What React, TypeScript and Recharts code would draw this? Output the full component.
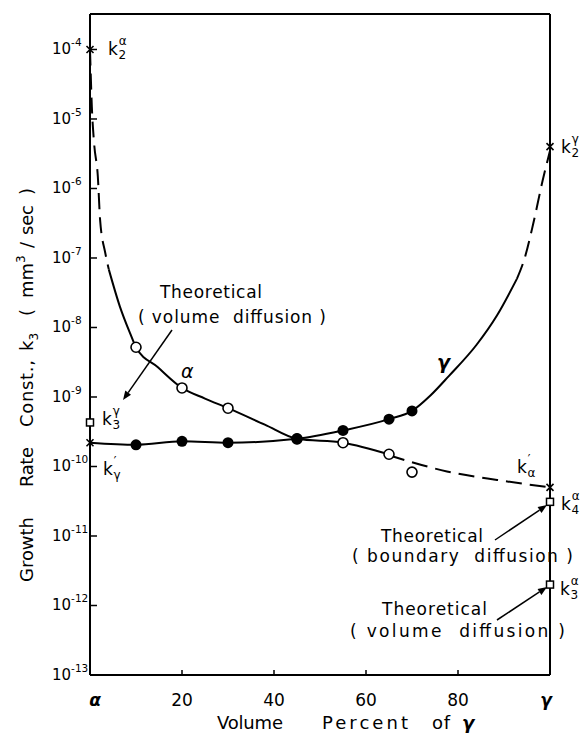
import React from 'react';
import { ComposedChart, Line, Scatter, XAxis, YAxis, ReferenceLine } from 'recharts';

const FONT = '"DejaVu Sans", sans-serif';

// axes
const pctTicks = [0, 20, 40, 60, 80, 100];
const pctTickLabels = ['α', '20', '40', '60', '80', 'γ'];
const kTicks = [1e-13, 1e-12, 1e-11, 1e-10, 1e-9, 1e-8, 1e-7, 1e-6, 1e-5, 1e-4];
const kTickExps = ['-13', '-12', '-11', '-10', '-9', '-8', '-7', '-6', '-5', '-4'];
const kTop = 3.24e-4;

// measured points
const alphaPct = [10, 20, 30, 45, 55, 65, 70];
const alphaK = [5.2e-9, 1.35e-9, 6.9e-10, 2.5e-10, 2.2e-10, 1.5e-10, 8.3e-11];
const gammaPct = [10, 20, 30, 45, 55, 65, 70];
const gammaK = [2.05e-10, 2.3e-10, 2.2e-10, 2.5e-10, 3.3e-10, 4.8e-10, 6.3e-10];

// alpha curve
const alphaHeadPct = [0, 0.4, 0.9, 1.7, 2.2, 3.3, 4.1];
const alphaHeadK = [1e-4, 1.5e-5, 4.4e-6, 1.5e-6, 3.5e-7, 1.2e-7, 6.8e-8];
const alphaBodyPct = [4.1, 6.5, 8.7, 10, 14.7, 20, 25, 30, 38, 45, 55, 65];
const alphaBodyK = [6.8e-8, 2e-8, 8.3e-9, 5.2e-9, 2.7e-9, 1.35e-9, 9.5e-10, 6.9e-10, 4e-10, 2.5e-10, 2.2e-10, 1.5e-10];
const alphaTailPct = [65, 77.6, 88.5, 100];
const alphaTailK = [1.45e-10, 8.5e-11, 6.4e-11, 5e-11];

// gamma curve
const gammaBodyPct = [0, 10, 20, 30, 45, 55, 65, 70, 74, 78, 84, 88.5, 92.8];
const gammaBodyK = [2.2e-10, 2.05e-10, 2.3e-10, 2.2e-10, 2.5e-10, 3.3e-10, 4.8e-10, 6.3e-10, 1.05e-9, 2e-9, 5.6e-9, 1.5e-8, 5e-8];
const gammaTailPct = [92.8, 94.5, 96.3, 98.4, 100];
const gammaTailK = [5e-8, 1e-7, 3e-7, 1.3e-6, 3.5e-6];

// limiting values on the end axes
const crossPct = [0, 0, 100, 100];
const crossK = [1e-4, 2.2e-10, 4e-6, 5e-11];
const squarePct = [0, 100, 100];
const squareK = [4.3e-10, 3.1e-11, 2e-12];

const zip = (xs: number[], ys: number[]) => xs.map((x, i) => ({ x, k: ys[i] }));

const OpenDot = (p: any) => <circle cx={p.cx} cy={p.cy} r={5} fill="#fff" stroke="#000" strokeWidth={1.6} />;
const FilledDot = (p: any) => <circle cx={p.cx} cy={p.cy} r={5.5} fill="#000" />;
const Cross = (p: any) => (
  <g stroke="#000" strokeWidth={1.6}>
    <line x1={p.cx - 3.5} y1={p.cy - 3.5} x2={p.cx + 3.5} y2={p.cy + 3.5} />
    <line x1={p.cx - 3.5} y1={p.cy + 3.5} x2={p.cx + 3.5} y2={p.cy - 3.5} />
  </g>
);
const Square = (p: any) => (
  <rect x={p.cx - 3.5} y={p.cy - 3.5} width={7} height={7} fill="#fff" stroke="#000" strokeWidth={1.5} />
);

const KTick = (p: any) => {
  const i = kTicks.findIndex((t) => Math.abs(Math.log10(t) - Math.log10(p.payload.value)) < 1e-6);
  return (
    <g>
      <line x1={p.x} x2={p.x + 7} y1={p.y} y2={p.y} stroke="#000" strokeWidth={1.5} />
      <text x={p.x - 38} y={p.y + 5} fontSize={15} fontFamily={FONT} fill="#000">
        10<tspan fontSize={10.5} dy={-8}>{kTickExps[i]}</tspan>
      </text>
    </g>
  );
};

const PctTick = (p: any) => {
  const i = pctTicks.indexOf(p.payload.value);
  const greek = i === 0 || i === pctTicks.length - 1;
  const dx = i === 0 ? 5 : i === pctTicks.length - 1 ? -4 : 0;
  return (
    <g>
      {!greek && <line x1={p.x} x2={p.x} y1={p.y} y2={p.y - 5} stroke="#000" strokeWidth={1.5} />}
      <text x={p.x + dx} y={p.y + 31} textAnchor="middle" fontSize={17} fontFamily={FONT}
        fontStyle={greek ? 'italic' : 'normal'} fontWeight={greek ? 'bold' : 'normal'} fill="#000">
        {pctTickLabels[i]}
      </text>
    </g>
  );
};

const Arrow = ({ x1, y1, x2, y2 }: any) => {
  const a = Math.atan2(y2 - y1, x2 - x1);
  const L = 9, W = 3.5;
  const bx = x2 - L * Math.cos(a), by = y2 - L * Math.sin(a);
  const px = -Math.sin(a) * W, py = Math.cos(a) * W;
  return (
    <g>
      <line x1={x1} y1={y1} x2={bx} y2={by} stroke="#000" strokeWidth={1.5} />
      <polygon points={`${x2},${y2} ${bx + px},${by + py} ${bx - px},${by - py}`} fill="#000" />
    </g>
  );
};

const Word = ({ x, y, w, size = 17, italic = false, children }: any) => (
  <text x={x} y={y} textLength={w} lengthAdjust="spacing" fontSize={size} fontFamily={FONT}
    fontStyle={italic ? 'italic' : 'normal'} fill="#000" style={{ whiteSpace: 'pre' }}>
    {children}
  </text>
);

const KLabel = ({ x, y, sup, sub }: any) => (
  <text x={x} y={y} fontSize={17} fontFamily={FONT} fill="#000">
    k<tspan fontSize={12} dx={1} dy={-10}>{sup}</tspan>
    <tspan fontSize={12} x={x + 10.5} dy={14}>{sub}</tspan>
  </text>
);

export default function App() {
  return (
    <div style={{ position: 'fixed', left: 0, top: 0, background: '#fff' }}>
      <ComposedChart width={580} height={733} margin={{ top: 14, right: 30, bottom: 0, left: 0 }}
        style={{ fontFamily: FONT }}>
        <XAxis dataKey="x" type="number" domain={[0, 100]} ticks={pctTicks}
          height={58} tickSize={0} tickMargin={0} tick={<PctTick />} axisLine={{ stroke: '#000', strokeWidth: 2 }}
          tickLine={false} />
        <YAxis dataKey="k" type="number" scale="log" domain={[1e-13, kTop]} ticks={kTicks}
          width={90} tickSize={0} tickMargin={0} tick={<KTick />} axisLine={{ stroke: '#000', strokeWidth: 2 }}
          tickLine={false} interval={0} />
        <ReferenceLine x={100} stroke="#000" strokeWidth={2} ifOverflow="visible" />
        <ReferenceLine y={kTop} stroke="#000" strokeWidth={2} ifOverflow="visible" />

        <Line data={zip(alphaHeadPct, alphaHeadK)} dataKey="k" type="monotone" dot={false} stroke="#000"
          strokeWidth={2} strokeDasharray="16 8" isAnimationActive={false} />
        <Line data={zip(alphaBodyPct, alphaBodyK)} dataKey="k" type="monotone" dot={false} stroke="#000"
          strokeWidth={2} isAnimationActive={false} />
        <Line data={zip(alphaTailPct, alphaTailK)} dataKey="k" type="monotone" dot={false} stroke="#000"
          strokeWidth={2} strokeDasharray="16 8" isAnimationActive={false} />
        <Line data={zip(gammaBodyPct, gammaBodyK)} dataKey="k" type="monotone" dot={false} stroke="#000"
          strokeWidth={2} isAnimationActive={false} />
        <Line data={zip(gammaTailPct, gammaTailK)} dataKey="k" type="monotone" dot={false} stroke="#000"
          strokeWidth={2} strokeDasharray="16 8" isAnimationActive={false} />

        <Scatter data={zip(alphaPct, alphaK)} dataKey="k" shape={OpenDot} isAnimationActive={false} />
        <Scatter data={zip(gammaPct, gammaK)} dataKey="k" shape={FilledDot} isAnimationActive={false} />
        <Scatter data={zip(crossPct, crossK)} dataKey="k" shape={Cross} isAnimationActive={false} />
        <Scatter data={zip(squarePct, squareK)} dataKey="k" shape={Square} isAnimationActive={false} />

        <g>
          {/* end-point labels */}
          <KLabel x={108} y={55} sup="α" sub="2" />
          <KLabel x={102} y={425} sup="γ" sub="3" />
          <KLabel x={103} y={475} sup="′" sub="γ" />
          <KLabel x={561} y={153} sup="γ" sub="2" />
          <KLabel x={517} y={473} sup="′" sub="α" />
          <KLabel x={561} y={510} sup="α" sub="4" />
          <KLabel x={560} y={595} sup="α" sub="3" />

          {/* curve labels */}
          <text x={181} y={378} fontSize={19} fontStyle="italic" fontFamily={FONT} fill="#000">α</text>
          <text x={437} y={369} fontSize={19} fontStyle="italic" fontWeight="bold" fontFamily={FONT} fill="#000">γ</text>

          {/* theoretical notes */}
          <Word x={160} y={298} w={102}>Theoretical</Word>
          <Word x={138} y={323} w={188}>( volume  diffusion )</Word>
          <Arrow x1={172} y1={330} x2={123} y2={400} />

          <Word x={381} y={542} w={102}>Theoretical</Word>
          <Word x={352} y={562} w={221}>( boundary  diffusion )</Word>
          <Arrow x1={495} y1={540} x2={547} y2={505} />

          <Word x={382} y={615} w={105}>Theoretical</Word>
          <Word x={350} y={637} w={215}>( volume  diffusion )</Word>
          <Arrow x1={497} y1={620} x2={547} y2={587} />

          {/* x-axis title */}
          <Word x={217} y={729} w={66} size={18}>Volume</Word>
          <Word x={322} y={729} w={86} size={18}>Percent</Word>
          <Word x={432} y={729} w={18} size={18}>of</Word>
          <text x={462} y={729} fontSize={18} fontStyle="italic" fontWeight="bold" fontFamily={FONT} fill="#000">γ</text>

          {/* y-axis title */}
          <g transform="translate(33,0) rotate(-90)">
            <Word x={-582} y={0} w={65} size={18}>Growth</Word>
            <Word x={-487} y={0} w={40} size={18}>Rate</Word>
            <Word x={-427} y={0} w={67} size={18}>Const.,</Word>
            <text x={-351} y={0} fontSize={18} fontFamily={FONT} fill="#000">k<tspan fontSize={12} dy={5}>3</tspan></text>
            <text x={-316} y={0} fontSize={18} fontFamily={FONT} fill="#000">(</text>
            <text x={-298} y={0} fontSize={18} fontFamily={FONT} fill="#000">mm<tspan fontSize={12} dy={-8}>3</tspan></text>
            <text x={-248} y={0} fontSize={18} fontFamily={FONT} fill="#000">/</text>
            <Word x={-235} y={0} w={30} size={18}>sec</Word>
            <text x={-195} y={0} fontSize={18} fontFamily={FONT} fill="#000">)</text>
          </g>
        </g>
      </ComposedChart>
    </div>
  );
}
